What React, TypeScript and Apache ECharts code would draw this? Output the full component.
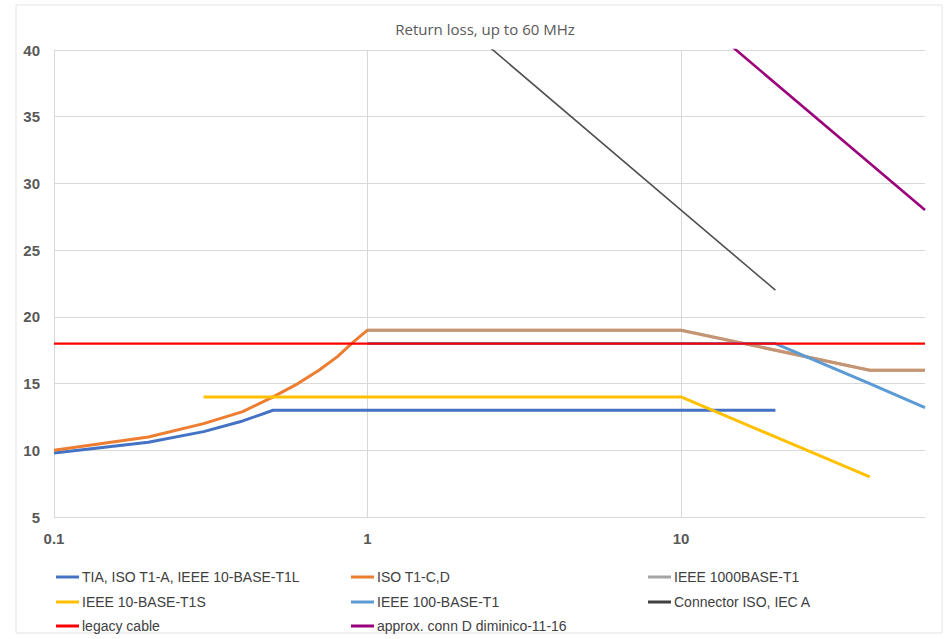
import React, { useEffect, useRef } from "react";
import * as echarts from "echarts";

// Frequencies (MHz) and return loss values (dB)
const tiaFreq = [0.1, 0.2, 0.3, 0.4, 0.5, 20];
const tiaRL = [9.8, 10.6, 11.4, 12.2, 13, 13];

const isoCDFreq = [0.1, 0.2, 0.3, 0.4, 0.5, 0.6, 0.7, 0.8, 0.9, 1, 10, 40, 60];
const isoCDRL = [10, 11, 12, 12.9, 14, 15, 16, 17, 18.1, 19, 19, 16, 16];

const gig1000Freq = [1, 10, 40, 60];
const gig1000RL = [19, 19, 16, 16];

const t1sFreq = [0.3, 10, 20, 40];
const t1sRL = [14, 14, 11, 8];

const t100Freq = [1, 20, 40, 60];
const t100RL = [18, 18, 15, 13.2];

const connAFreq = [1, 10, 20];
const connARL = [48, 28, 22];

const legacyFreq = [0.1, 60];
const legacyRL = [18, 18];

const connDFreq = [10, 60];
const connDRL = [43.5, 28];

const xTicks = ["0.1", "1", "10"];

const names = [
  "TIA, ISO T1-A, IEEE 10-BASE-T1L",
  "ISO T1-C,D",
  "IEEE 1000BASE-T1",
  "IEEE 10-BASE-T1S",
  "IEEE 100-BASE-T1",
  "Connector ISO, IEC A",
  "legacy cable",
  "approx. conn D diminico-11-16",
];

const pairs = (xs: number[], ys: number[]) => xs.map((x, i) => [x, ys[i]]);

export default function App() {
  const ref = useRef<HTMLDivElement>(null);
  useEffect(() => {
    if (!ref.current) return;
    const chart = echarts.init(ref.current, null, { renderer: "svg" });
    const font = "'Liberation Sans', Arial, sans-serif";
    const mkSeries = (
      name: string,
      data: number[][],
      color: string,
      width: number,
      opacity = 1
    ) => ({
      name,
      type: "line",
      data,
      symbol: "none",
      clip: true,
      lineStyle: { color, width, opacity },
      itemStyle: { color },
    });
    const legendPos = [
      [56, 569],
      [351, 569],
      [648, 569],
      [56, 594],
      [351, 594],
      [648, 594],
      [56, 618],
      [351, 618],
    ];
    const legendColors = [
      "#4472C4",
      "#ED7D31",
      "#A5A5A5",
      "#FFC000",
      "#5B9BD5",
      "#404040",
      "#FF0000",
      "#99007A",
    ];
    chart.setOption({
      animation: false,
      backgroundColor: "#ffffff",
      title: {
        text: "Return loss, up to 60 MHz",
        left: 480,
        textAlign: "center",
        top: 16,
        textStyle: { fontFamily: "'Open Sans', sans-serif", fontSize: 15, fontWeight: "normal", color: "#595959" },
      },
      graphic: [
        {
          type: "rect",
          shape: { x: 16, y: 5, width: 926, height: 628 },
          style: { fill: "none", stroke: "#E3E3E3", lineWidth: 1 },
          silent: true,
        },
      ],
      legend: names.map((n, i) => ({
        data: [{ name: n, itemStyle: { color: legendColors[i] } }],
        left: legendPos[i][0],
        top: legendPos[i][1],
        icon: "rect",
        itemWidth: 23,
        itemHeight: 3,
        itemGap: 0,
        padding: 0,
        selectedMode: false,
        textStyle: { fontFamily: font, fontSize: 14, color: "#404040", lineHeight: 16, padding: [0, 0, 0, -2] },
      })),
      grid: { left: 54, right: 26, top: 50, bottom: 122, containLabel: false },
      xAxis: {
        type: "log",
        logBase: 10,
        min: 0.1,
        max: 60,
        axisLine: { show: true, lineStyle: { color: "#D9D9D9" } },
        axisTick: { show: false },
        splitLine: { show: true, showMaxLine: false, lineStyle: { color: "#D9D9D9", width: 1 } },
        axisLabel: {
          showMaxLabel: false,
          margin: 14,
          fontFamily: font,
          fontSize: 15,
          fontWeight: "bold",
          color: "#595959",
          formatter: (v: number) => {
            const s = String(+Number(v).toPrecision(6));
            return xTicks.includes(s) ? s : "";
          },
        },
      },
      yAxis: {
        type: "value",
        min: 5,
        max: 40,
        interval: 5,
        axisLine: { show: true, lineStyle: { color: "#D9D9D9" } },
        axisTick: { show: false },
        splitLine: { show: true, lineStyle: { color: "#D9D9D9", width: 1 } },
        axisLabel: {
          margin: 14,
          fontFamily: font,
          fontSize: 15,
          fontWeight: "bold",
          color: "#595959",
        },
      },
      series: [
        mkSeries(names[0], pairs(tiaFreq, tiaRL), "#4472C4", 3),
        mkSeries(names[1], pairs(isoCDFreq, isoCDRL), "#ED7D31", 3),
        mkSeries(names[2], pairs(gig1000Freq, gig1000RL), "#A5A5A5", 3, 0.6),
        mkSeries(names[3], pairs(t1sFreq, t1sRL), "#FFC000", 3),
        mkSeries(names[4], pairs(t100Freq, t100RL), "#5B9BD5", 3),
        mkSeries(names[5], pairs(connAFreq, connARL), "#505050", 1.6),
        mkSeries(names[6], pairs(legacyFreq, legacyRL), "#FF0000", 2.2),
        mkSeries(names[7], pairs(connDFreq, connDRL), "#99007A", 2.6),
      ],
    });
    return () => chart.dispose();
  }, []);
  return (
    <div
      ref={ref}
      style={{ position: "fixed", left: 0, top: 0, width: 951, height: 639 }}
    />
  );
}
